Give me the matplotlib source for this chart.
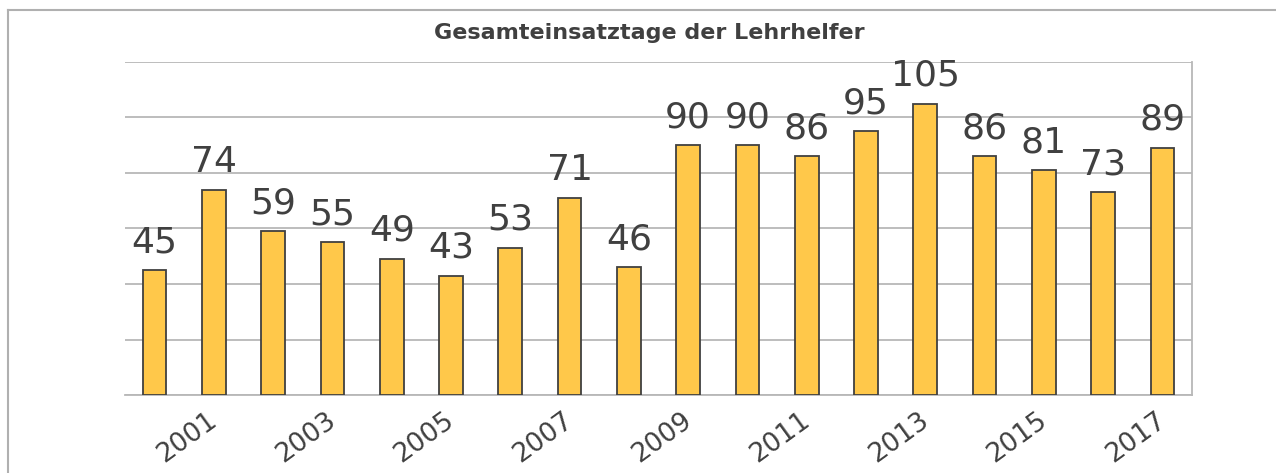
import matplotlib
matplotlib.use('Agg')
import matplotlib.pyplot as plt
import matplotlib.transforms as mtrans
from matplotlib.lines import Line2D

# data
years = list(range(2000, 2018))
days = [45, 74, 59, 55, 49, 43, 53, 71, 46, 90, 90, 86, 95, 105, 86, 81, 73, 89]
tick_years = [y for y in years if y % 2 == 1]

TEXT = '#404040'
GRID = '#b8b8b8'

fig = plt.figure(figsize=(12.76, 4.73), dpi=100)
W, H = 1276, 473
ax = fig.add_axes([125 / W, 1 - 395 / H, (1192 - 125) / W, (395 - 62) / H])

# outer frame (left and top edges only visible)
fig.add_artist(Line2D([8 / W, 8 / W], [0, 1 - 10 / H], color='#b0b0b0', lw=1.5))
fig.add_artist(Line2D([8 / W, 1], [1 - 10 / H, 1 - 10 / H], color='#b0b0b0', lw=1.5))

bars = ax.bar(years, days, width=0.4, color='#FFC84A', edgecolor=TEXT, linewidth=1.3, zorder=3)

for b, v in zip(bars, days):
    ax.annotate(str(v), (b.get_x() + b.get_width() / 2, b.get_height()),
                xytext=(0, 8), textcoords='offset points', ha='center', va='bottom',
                fontsize=26, color=TEXT, zorder=4, annotation_clip=False)

ax.set_xlim(years[0] - 0.5, years[-1] + 0.5)
ax.set_ylim(0, 120)
ax.set_yticks(range(0, 121, 20))
ax.yaxis.grid(True, color=GRID, lw=1.3, zorder=0)
ax.tick_params(axis='y', left=False, labelleft=False)
ax.tick_params(axis='x', length=0, pad=9)

ax.set_xticks(tick_years)
ax.set_xticklabels([str(y) for y in tick_years], rotation=36, ha='right',
                   rotation_mode='anchor', fontsize=19, color=TEXT)
shift = mtrans.ScaledTranslation(-7 / 100, 0, fig.dpi_scale_trans)
for lbl in ax.get_xticklabels():
    lbl.set_transform(lbl.get_transform() + shift)

ax.spines['left'].set_visible(False)
ax.spines['top'].set_visible(False)
for s in ('right', 'bottom'):
    ax.spines[s].set_color(GRID)
    ax.spines[s].set_linewidth(1.3)

fig.text(649 / W, 1 - 33 / H, 'Gesamteinsatztage der Lehrhelfer', ha='center', va='center',
         fontsize=16, fontweight='bold', color=TEXT)

fig.savefig('out.png', dpi=100)
